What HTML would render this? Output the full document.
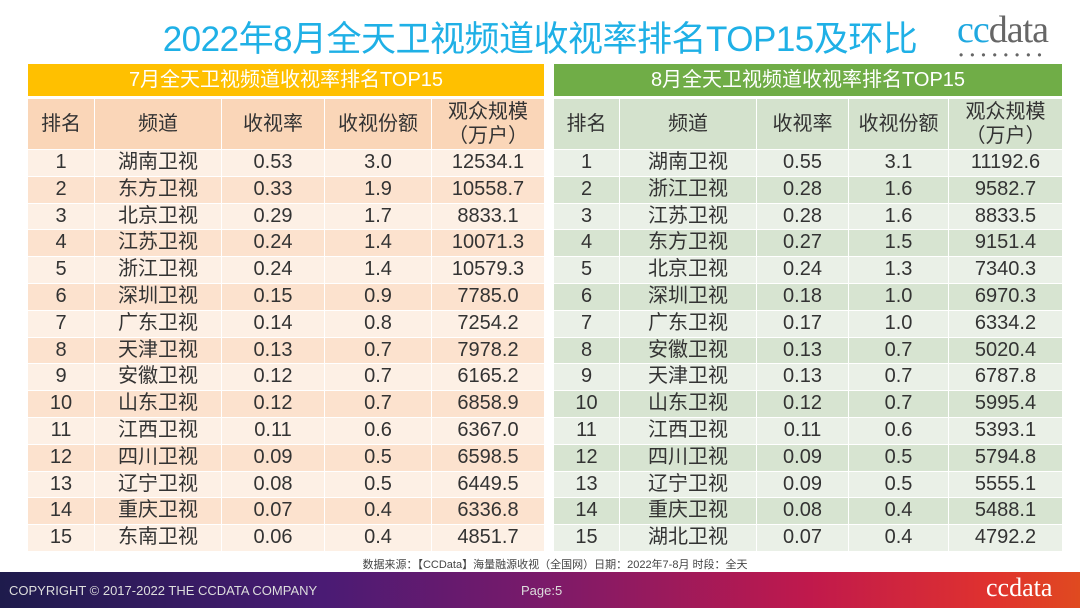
<!DOCTYPE html>
<html><head><meta charset="utf-8"><style>
*{margin:0;padding:0;box-sizing:border-box}
body{width:1080px;height:608px;overflow:hidden;background:#fff;font-family:"Liberation Sans","Noto Sans CJK SC",sans-serif;position:relative;color:#333}
#title{position:absolute;left:0;width:1080px;top:18px;text-align:center;font-size:35px;color:#1FB0E6;letter-spacing:-0.5px;line-height:44px;padding-left:0}
#logo{position:absolute;left:957px;top:8px;font-family:"Liberation Serif",serif;font-size:38px;color:#666;letter-spacing:-1px}
#logo .c{color:#1FA8E0}
#logo .dots{position:absolute;left:2px;top:40px;font-size:12px;letter-spacing:7px;color:#666;font-family:"Liberation Sans",sans-serif}
.tbl{position:absolute;top:64px}
.bar{height:32px;line-height:32px;text-align:center;color:#fff;font-size:20px}
.row{display:flex;height:26.8px;border-top:1.5px solid #fff}
.row div{border-left:1.5px solid #fff;text-align:center;font-size:20px;line-height:25px;overflow:hidden}
.row div:first-child{border-left:none}
.hdr{height:53px;border-top:3px solid #fff}
.hdr div{line-height:24px;display:flex;align-items:center;justify-content:center;flex-direction:column}
#src{position:absolute;top:556px;left:0;width:1080px;text-align:center;font-size:11px;color:#444;padding-left:30px}
#foot{position:absolute;left:0;top:572px;width:1080px;height:36px;background:linear-gradient(90deg,#1E1B4C 0%,#4A1B74 30%,#7A1A6A 50%,#C0194C 75%,#E0322E 92%,#E04A20 100%)}
#foot span{position:absolute;color:#ddd;font-size:13px;top:11px}
#flogo{position:absolute;left:986px;top:1px;font-family:"Liberation Serif",serif;font-size:26px;color:#fff}
</style></head><body>
<div id="title">2022年8月全天卫视频道收视率排名TOP15及环比</div>
<div id="logo"><span class="c">cc</span>data<div class="dots">••••••••</div></div>
<div id="left" class="tbl" style="left:28px;width:516px"></div>
<div id="right" class="tbl" style="left:554px;width:508px"></div>
<div id="src">数据来源：【CCData】海量融源收视（全国网）日期：2022年7-8月 时段：全天</div>
<div id="foot">
<span style="left:9px">COPYRIGHT © 2017-2022 THE CCDATA COMPANY</span>
<span style="left:521px">Page:5</span>
<div id="flogo">ccdata</div>
</div>
<script>
const julChannels=["湖南卫视","东方卫视","北京卫视","江苏卫视","浙江卫视","深圳卫视","广东卫视","天津卫视","安徽卫视","山东卫视","江西卫视","四川卫视","辽宁卫视","重庆卫视","东南卫视"];
const julRating=["0.53","0.33","0.29","0.24","0.24","0.15","0.14","0.13","0.12","0.12","0.11","0.09","0.08","0.07","0.06"];
const julShare=["3.0","1.9","1.7","1.4","1.4","0.9","0.8","0.7","0.7","0.7","0.6","0.5","0.5","0.4","0.4"];
const julAudience=["12534.1","10558.7","8833.1","10071.3","10579.3","7785.0","7254.2","7978.2","6165.2","6858.9","6367.0","6598.5","6449.5","6336.8","4851.7"];
const augChannels=["湖南卫视","浙江卫视","江苏卫视","东方卫视","北京卫视","深圳卫视","广东卫视","安徽卫视","天津卫视","山东卫视","江西卫视","四川卫视","辽宁卫视","重庆卫视","湖北卫视"];
const augRating=["0.55","0.28","0.28","0.27","0.24","0.18","0.17","0.13","0.13","0.12","0.11","0.09","0.09","0.08","0.07"];
const augShare=["3.1","1.6","1.6","1.5","1.3","1.0","1.0","0.7","0.7","0.7","0.6","0.5","0.5","0.4","0.4"];
const augAudience=["11192.6","9582.7","8833.5","9151.4","7340.3","6970.3","6334.2","5020.4","6787.8","5995.4","5393.1","5794.8","5555.1","5488.1","4792.2"];
function build(id,title,barColor,hdrColor,rowA,rowB,widths,ch,ra,sh,au,prefix){
  const t=document.getElementById(id);
  const bar=document.createElement('div');bar.className='bar';bar.style.background=barColor;bar.textContent=title;
  
  
  t.appendChild(bar);
  const h=document.createElement('div');h.className='row hdr';h.style.background=hdrColor;
  
  
  const heads=["排名","频道","收视率","收视份额","观众规模<br>（万户）"];
  heads.forEach((x,i)=>{const c=document.createElement('div');c.style.width=widths[i]+'px';c.innerHTML=x;
    
    
    h.appendChild(c);});
  t.appendChild(h);
  for(let r=0;r<ch.length;r++){
    const row=document.createElement('div');row.className='row';row.style.background=r%2?rowB:rowA;
    
    
    [String(r+1),ch[r],ra[r],sh[r],au[r]].forEach((x,i)=>{const c=document.createElement('div');c.style.width=widths[i]+'px';c.textContent=x;
      
      
      row.appendChild(c);});
    t.appendChild(row);
  }
}
build('left','7月全天卫视频道收视率排名TOP15','#FFC000','#FAD6B8','#FDF0E5','#FCE2CE',[66,127,103,107,113],julChannels,julRating,julShare,julAudience,'july');
build('right','8月全天卫视频道收视率排名TOP15','#70AD47','#D4E2CD','#EAF0E7','#D7E4D1',[65,137,92,100,114],augChannels,augRating,augShare,augAudience,'august');
</script>
</body></html>
